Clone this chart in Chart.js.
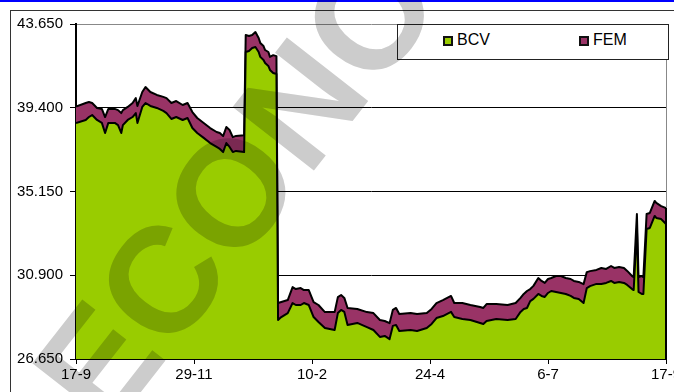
<!DOCTYPE html>
<html>
<head>
<meta charset="utf-8">
<script src="https://cdn.jsdelivr.net/npm/chart.js@4.4.0/dist/chart.umd.min.js"></script>
<style>
  body { margin: 0; background: #fff; }
  #wrap { position: relative; width: 674px; height: 392px; overflow: hidden; font-family: "Liberation Sans", Arial, sans-serif; }
  #chart { position: absolute; left: 0; top: 0; }
  #topbar { position: absolute; left: 0; top: 0; width: 674px; height: 2px; background: #0000ff; }
  #frame { position: absolute; left: 10px; top: 10px; width: 700px; height: 420px; border-top: 1px solid #333; border-left: 1px solid #333; }
  #legend { position: absolute; left: 397px; top: 24px; width: 270px; height: 34px; border: 1px solid #222; background: #fff; }
  #legend .mark { position: absolute; top: 11px; width: 10px; height: 10px; box-sizing: border-box; border: 2px solid #111; }
  #legend .txt { position: absolute; top: 6px; font-size: 16px; line-height: 18px; color: #000; }
  #wm { position: absolute; left: 0; top: 0; mix-blend-mode: multiply; pointer-events: none; }
</style>
</head>
<body>
<div id="wrap">
  <div id="frame"></div>
  <canvas id="chart" width="674" height="392"></canvas>
  <div id="legend"></div>
  <div id="topbar"></div>
  <canvas id="wm" width="674" height="392"></canvas>
</div>
<script>
// series
var seriesNames = ['BCV', 'FEM'];
var seriesColors = ['#99cc00', '#993366'];

// day offsets from the first date (17-9)
var days = [0, 6, 8, 10, 13, 16, 18, 20, 24, 26, 28, 29, 32, 35, 37, 38, 41, 43, 46, 50,
  54, 56, 59, 62, 66, 69, 72, 75, 79, 83, 87, 89, 91, 93, 95, 97, 99, 104, 105, 107,
  109, 111, 113, 114, 116, 117, 119, 120, 122, 124, 125, 127, 131, 134, 136, 139, 141, 144, 147, 150,
  154, 157, 160, 162, 164, 166, 168, 174, 180, 184, 188, 191, 194, 196, 198, 200, 207, 211, 217, 220,
  223, 227, 232, 234, 239, 244, 250, 252, 254, 260, 267, 272, 275, 277, 279, 281, 283, 286, 288, 290,
  292, 294, 297, 300, 303, 306, 308, 311, 314, 316, 318, 322, 325, 328, 331, 333, 336, 339, 341, 344,
  345, 347, 348, 350, 351, 353, 355, 358, 359, 362, 365];

var bcv = [38.63, 38.78, 38.93, 39.03, 38.78, 38.63, 38.12, 38.63, 38.63, 38.52, 38.12, 38.52, 38.78, 38.93, 39.13, 38.63, 39.44, 39.64, 39.49, 39.39,
  39.24, 39.13, 38.83, 38.93, 38.78, 38.88, 38.37, 38.12, 37.87, 37.61, 37.41, 37.31, 37.15, 37.61, 37.41, 37.15, 37.21, 37.15, 42.23, 42.28,
  42.43, 42.48, 42.23, 41.98, 41.82, 41.67, 41.52, 41.32, 41.16, 41.11, 28.63, 28.78, 28.98, 29.49, 29.39, 29.39, 29.49, 29.39, 28.78, 28.53,
  28.22, 28.17, 28.12, 28.98, 29.14, 29.04, 28.38, 28.48, 28.27, 28.12, 27.77, 27.82, 27.66, 28.33, 28.38, 28.07, 28.12, 28.07, 28.22, 28.43,
  28.73, 28.83, 29.04, 28.78, 28.68, 28.63, 28.48, 28.43, 28.58, 28.68, 28.63, 28.68, 29.04, 29.19, 29.24, 29.59, 29.70, 29.95, 29.85, 29.80,
  30.00, 30.10, 30.05, 30.00, 29.95, 29.85, 29.75, 29.70, 29.49, 30.25, 30.35, 30.46, 30.46, 30.51, 30.61, 30.51, 30.56, 30.51, 30.41, 30.20,
  30.15, 33.30, 30.05, 29.95, 29.95, 33.25, 33.30, 33.91, 33.81, 33.75, 33.50];

var fem = [0.83, 0.86, 0.76, 0.61, 0.61, 0.71, 0.81, 0.71, 0.71, 0.76, 1.01, 0.76, 0.66, 0.71, 0.76, 0.86, 0.76, 0.81, 0.71, 0.66,
  0.71, 0.76, 0.81, 0.81, 0.76, 0.76, 0.81, 0.76, 0.76, 0.76, 0.76, 0.81, 0.81, 0.81, 0.86, 0.76, 0.76, 0.86, 0.86, 0.76,
  0.66, 0.76, 0.71, 0.71, 0.71, 0.66, 0.71, 0.66, 0.91, 0.91, 0.86, 0.76, 0.66, 0.81, 0.81, 0.86, 0.66, 0.76, 0.76, 0.86,
  0.81, 0.86, 0.91, 0.81, 0.76, 0.71, 0.86, 0.71, 0.76, 0.86, 0.86, 0.76, 0.81, 0.81, 0.86, 0.86, 0.86, 0.86, 0.76, 0.76,
  0.76, 0.81, 0.81, 0.71, 0.81, 0.76, 0.81, 0.81, 0.86, 0.76, 0.76, 0.81, 0.71, 0.76, 0.86, 0.61, 0.66, 0.81, 0.76, 0.71,
  0.71, 0.66, 0.81, 0.86, 0.81, 0.86, 0.86, 0.86, 0.96, 0.81, 0.76, 0.71, 0.81, 0.71, 0.76, 0.76, 0.76, 0.76, 0.71, 0.66,
  0.66, 0.71, 0.76, 0.91, 0.86, 0.76, 0.76, 0.76, 0.76, 0.66, 0.81];

// axes
var xTickDays = [0, 73, 146, 219, 292, 365];
var xTickLabels = ['17-9', '29-11', '10-2', '24-4', '6-7', '17-9'];
var yTicks = [26.65, 30.9, 35.15, 39.4, 43.65];

function toPoints(values) {
    return days.map(function (d, i) { return { x: d, y: values[i] }; });
}

// grey plot border on the right, black outline closing the area at the last day
var edgeLines = {
    id: 'edgeLines',
    beforeDatasetsDraw: function (chart) {
        var ctx = chart.ctx, a = chart.chartArea;
        ctx.save();
        ctx.strokeStyle = '#888';
        ctx.lineWidth = 1;
        ctx.beginPath();
        ctx.moveTo(a.right + 0.5, a.top);
        ctx.lineTo(a.right + 0.5, a.bottom);
        ctx.stroke();
        ctx.restore();
    },
    afterDatasetsDraw: function (chart) {
        var ctx = chart.ctx, a = chart.chartArea;
        var pts = chart.getDatasetMeta(1).data;
        var last = pts[pts.length - 1];
        ctx.save();
        ctx.strokeStyle = '#000';
        ctx.lineWidth = 2;
        ctx.beginPath();
        ctx.moveTo(last.x, last.y);
        ctx.lineTo(last.x, a.bottom);
        ctx.stroke();
        ctx.restore();
    }
};

var tickFont = { family: '"Liberation Sans", Arial, sans-serif', size: 15 };

new Chart(document.getElementById('chart').getContext('2d'), {
    type: 'line',
    data: {
        datasets: [{
            label: seriesNames[0],
            data: toPoints(bcv),
            backgroundColor: seriesColors[0],
            borderColor: '#000',
            borderWidth: 2,
            borderJoinStyle: 'round',
            pointRadius: 0,
            tension: 0,
            fill: 'start'
        }, {
            label: seriesNames[1],
            data: toPoints(fem),
            backgroundColor: seriesColors[1],
            borderColor: '#000',
            borderWidth: 2,
            borderJoinStyle: 'round',
            pointRadius: 0,
            tension: 0,
            fill: '-1'
        }]
    },
    options: {
        responsive: false,
        animation: false,
        devicePixelRatio: 1,
        layout: { padding: { left: 0, top: 24, right: 8, bottom: 0 } },
        plugins: {
            legend: { display: false },
            tooltip: { enabled: false }
        },
        scales: {
            x: {
                type: 'linear',
                min: 0,
                max: 365,
                grid: { drawOnChartArea: false, tickLength: 5, tickColor: '#000' },
                border: { color: '#000', width: 2 },
                ticks: {
                    autoSkip: false,
                    maxRotation: 0,
                    padding: 2,
                    color: '#000',
                    font: tickFont,
                    callback: function (value) { return xTickLabels[xTickDays.indexOf(value)]; }
                },
                afterBuildTicks: function (scale) {
                    scale.ticks = xTickDays.map(function (v) { return { value: v }; });
                },
                afterFit: function (scale) {
                    scale.height = 33;
                    scale.paddingLeft = 0;
                    scale.paddingRight = 0;
                }
            },
            y: {
                stacked: true,
                min: 26.65,
                max: 43.65,
                grid: {
                    color: function (ctx) { return ctx.tick && ctx.tick.value === 43.65 ? '#888' : '#000'; },
                    tickColor: '#000',
                    tickLength: 6,
                    lineWidth: 1
                },
                border: { color: '#000', width: 2 },
                ticks: {
                    padding: 7,
                    color: '#000',
                    font: tickFont,
                    callback: function (value) { return value.toFixed(3); }
                },
                afterBuildTicks: function (scale) {
                    scale.ticks = yTicks.map(function (v) { return { value: v }; });
                },
                afterFit: function (scale) {
                    scale.width = 76;
                    scale.paddingTop = 0;
                    scale.paddingBottom = 0;
                }
            }
        }
    },
    plugins: [edgeLines]
});

// legend box
var legend = document.getElementById('legend');
var markLeft = [45, 181];
seriesNames.forEach(function (name, i) {
    var m = document.createElement('span');
    m.className = 'mark';
    m.style.left = markLeft[i] + 'px';
    m.style.background = seriesColors[i];
    legend.appendChild(m);
    var t = document.createElement('span');
    t.className = 'txt';
    t.style.left = (markLeft[i] + 14) + 'px';
    t.textContent = name;
    legend.appendChild(t);
});

// watermark across the whole picture, centred on the "C"
var wm = document.getElementById('wm').getContext('2d');
var word = 'ECONOMISTA';
wm.fillStyle = '#cccccc';
wm.font = 'bold 150px "Liberation Sans"';
var wE = wm.measureText('E').width, wC = wm.measureText('C').width;
wm.translate(160, 280);
wm.rotate(-52 * Math.PI / 180);
wm.fillText(word, -(wE + wC / 2), 54);
</script>
</body>
</html>
